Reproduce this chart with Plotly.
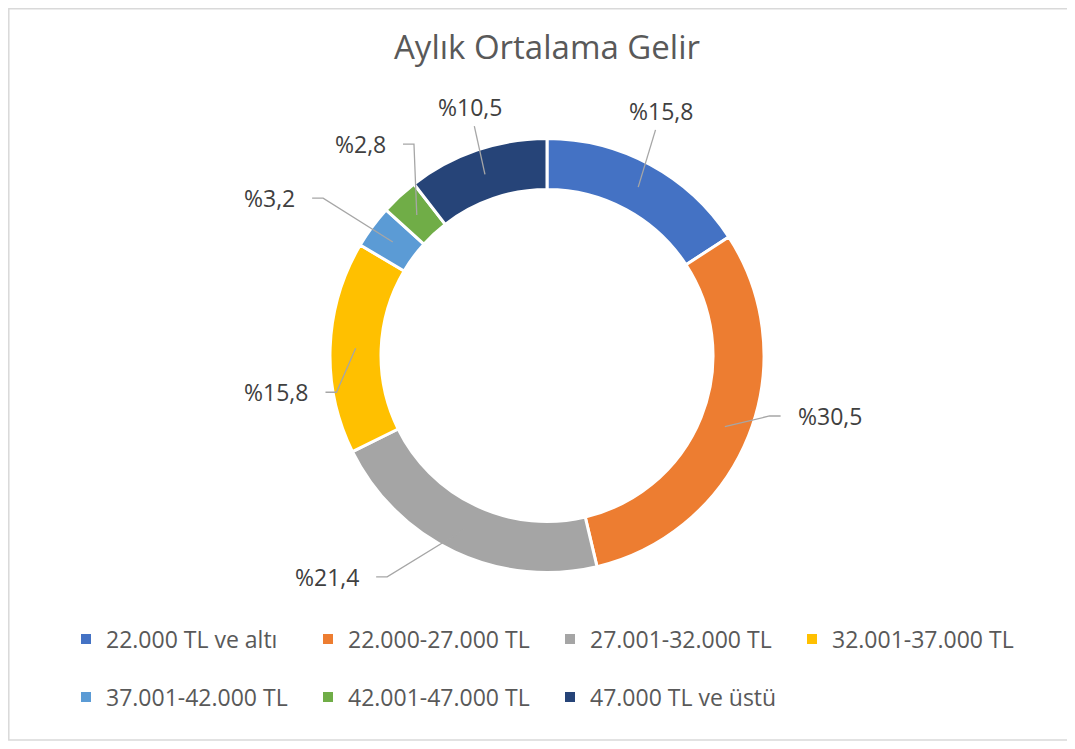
import math
import plotly.graph_objects as go

# data
categories = ['22.000 TL ve altı', '22.000-27.000 TL', '27.001-32.000 TL', '32.001-37.000 TL',
              '37.001-42.000 TL', '42.001-47.000 TL', '47.000 TL ve üstü']
shares = [15.8, 30.5, 21.4, 15.8, 3.2, 2.8, 10.5]
label_texts = ['%15,8', '%30,5', '%21,4', '%15,8', '%3,2', '%2,8', '%10,5']

colors = ['#4472C4', '#ED7D31', '#A5A5A5', '#FFC000', '#5B9BD5', '#70AD47', '#264478']

# the page puts an 8px body margin round the figure, so the figure is made smaller
# and everything below is given in window pixels
OFF = 8
W, H = 1075 - 2 * OFF, 749 - 2 * OFF
cx, cy, R = 547, 355.5, 217
hole = 0.765
mid_r = R * (1 + hole) / 2

# where excel pushed the data labels (angle nudge from slice middle, distance from centre)
label_nudge_deg = [-3.4, -9.7, 19.6, -9.9, -6.8, 1.4, 1.7]
label_radius_px = [270, 289, 312, 273, 319, 282, 260]


def to_paper(px, py):
    return (px - OFF) / W, 1 - (py - OFF) / H


fig = go.Figure()

x0p, y0p = to_paper(cx - R, cy + R)
x1p, y1p = to_paper(cx + R, cy - R)
fig.add_trace(go.Pie(
    labels=categories, values=shares, hole=hole, sort=False, direction='clockwise',
    rotation=0, textinfo='none', showlegend=False,
    marker=dict(colors=colors, line=dict(color='white', width=3)),
    domain=dict(x=[x0p, x1p], y=[y0p, y1p]),
))

# legend entries (two rows, like the excel legend)
for i, (name, col) in enumerate(zip(categories, colors)):
    fig.add_trace(go.Scatter(
        x=[None], y=[None], mode='markers', name=name,
        marker=dict(symbol='square', size=10, color=col),
        legend='legend' if i < 4 else 'legend2',
    ))

# data labels with leader lines
shapes = []
annotations = []
total = sum(shares)
cum = 0
for i, v in enumerate(shares):
    mid = (cum + v / 2) / total * 360
    cum += v
    a = math.radians(mid)
    ax_, ay_ = cx + mid_r * math.sin(a), cy - mid_r * math.cos(a)
    la = math.radians(mid + label_nudge_deg[i])
    lx, ly = cx + label_radius_px[i] * math.sin(la), cy - label_radius_px[i] * math.cos(la)
    hw = len(label_texts[i]) * 6.4
    dx, dy = ax_ - lx, ay_ - ly
    if abs(dx) <= hw:
        t = 19 / abs(dy)
        pts = [(lx + dx * t, ly + dy * t), (ax_, ay_)]
    else:
        s = 1 if dx > 0 else -1
        p1 = (lx + s * (hw + 17), ly)
        p2 = (p1[0] + s * 11, ly)
        pts = [p1, p2, (ax_, ay_)]
    pp = [to_paper(*p) for p in pts]
    path = 'M ' + ' L '.join(f'{x:.5f},{y:.5f}' for x, y in pp)
    shapes.append(dict(type='path', path=path, xref='paper', yref='paper',
                       line=dict(color='#A6A6A6', width=1.3)))
    px_, py_ = to_paper(lx, ly)
    annotations.append(dict(x=px_, y=py_, xref='paper', yref='paper', text=label_texts[i],
                            showarrow=False, xanchor='center', yanchor='middle',
                            font=dict(family='Open Sans', size=23, color='#404040')))

# chart border: only the left, top and bottom edges show in the picture
bl, bb = to_paper(8.8, 740)
br, bt = to_paper(1075, 8.8)
border = dict(type='path', xref='paper', yref='paper',
              path=f'M {br:.5f},{bt:.5f} L {bl:.5f},{bt:.5f} L {bl:.5f},{bb:.5f} L {br:.5f},{bb:.5f}',
              line=dict(color='#D9D9D9', width=1.5))
shapes.append(border)

legend_style = dict(orientation='h', xanchor='left', yanchor='middle', entrywidth=197,
                    font=dict(family='Open Sans', size=23, color='#595959'),
                    bgcolor='rgba(0,0,0,0)', itemclick=False, itemdoubleclick=False)

lgx, lgy1 = to_paper(66, 639)
_, lgy2 = to_paper(66, 697)
tx, ty = to_paper(cx, 47)

fig.update_layout(
    width=W, height=H,
    margin=dict(l=0, r=0, t=0, b=0),
    paper_bgcolor='white', plot_bgcolor='white',
    title=dict(text='Aylık Ortalama Gelir', x=tx, xanchor='center', y=ty, yanchor='middle',
               font=dict(family='Open Sans', size=33, color='#595959')),
    xaxis=dict(visible=False), yaxis=dict(visible=False),
    legend=dict(x=lgx, y=lgy1, **legend_style),
    legend2=dict(x=lgx, y=lgy2, **legend_style),
    shapes=shapes,
    annotations=annotations,
)

fig.write_html('out.html')
